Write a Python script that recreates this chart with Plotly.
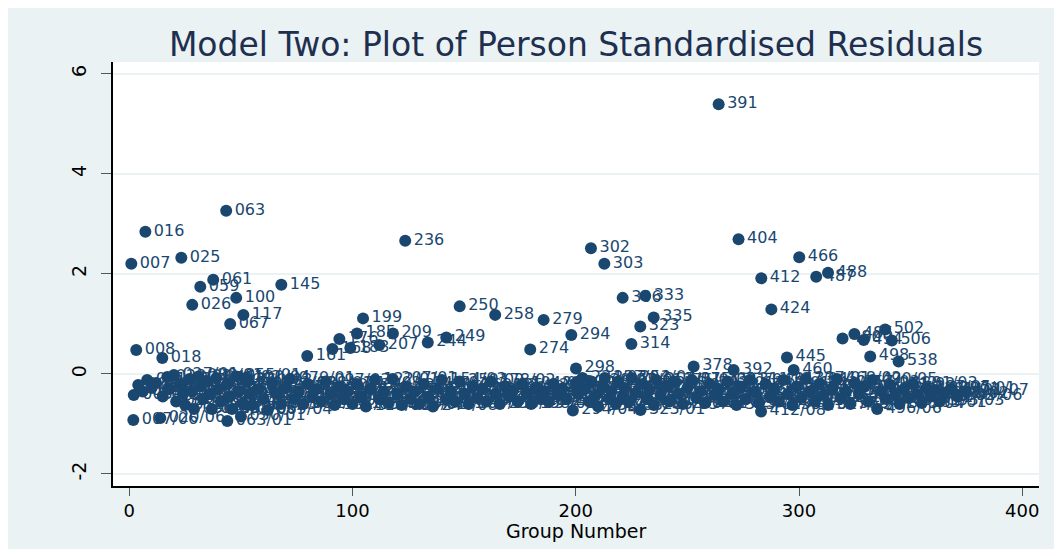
"""Model Two: person standardised residuals by group number."""

import plotly.graph_objects as go

NAVY = "#1A476F"
REGION_BG = "#EAF2F3"

# labelled outliers: group number, residual, person id
out_group = [0.9, 7.2, 23.3, 43.4, 37.6, 31.8, 28.2, 47.9, 51.1, 45.2, 68.1,
             3.1, 14.8, 79.7, 91.0, 99.0, 94.1, 102.0, 118.1, 112.0, 104.7,
             123.6, 133.7, 142.0, 148.0, 163.9, 185.6, 179.6, 198.0, 200.1,
             206.8, 212.8, 221.0, 231.1, 234.9, 228.9, 224.9, 252.8, 264.0,
             270.7, 272.9, 283.1, 287.6, 294.6, 297.6, 300.1, 307.7, 313.0,
             319.5, 324.8, 329.0, 331.9, 338.6, 341.6, 344.6]
out_resid = [2.20, 2.84, 2.32, 3.26, 1.88, 1.74, 1.38, 1.52, 1.18, 1.00, 1.78,
             0.48, 0.32, 0.36, 0.50, 0.52, 0.70, 0.81, 0.81, 0.58, 1.11,
             2.66, 0.63, 0.73, 1.35, 1.18, 1.08, 0.49, 0.78, 0.11,
             2.51, 2.20, 1.52, 1.56, 1.13, 0.95, 0.60, 0.15, 5.39,
             0.08, 2.69, 1.91, 1.29, 0.33, 0.08, 2.33, 1.94, 2.02,
             0.71, 0.80, 0.68, 0.35, 0.89, 0.67, 0.25]
out_id = ["007", "016", "025", "063", "061", "059", "026", "100", "117", "067",
          "145", "008", "018", "161", "168", "183", "176", "185", "209", "207",
          "199", "236", "244", "249", "250", "258", "279", "274", "294", "298",
          "302", "303", "306", "333", "335", "323", "314", "378", "391", "392",
          "404", "412", "424", "445", "460", "466", "487", "488", "480", "485",
          "494", "498", "502", "506", "538"]

# the dense band of residuals just below zero
band_group = [2, 4, 1.8, 6, 8, 10, 12, 13.9, 15, 17, 18, 20, 21, 23, 24, 25,
              27, 28, 29, 31, 32, 33, 35, 36, 37, 39, 40, 41, 43.9, 44, 45, 46,
              48, 49, 50, 51, 53, 54, 55, 52, 58, 60, 62, 64, 66, 68, 70, 72,
              74, 76, 78, 80, 82, 84, 86, 88, 90, 92, 94, 96, 98, 100, 102,
              104, 106, 108, 110, 112, 114, 116, 118, 120, 122, 124, 126, 128,
              130, 132, 134, 136, 138, 140, 142, 144, 146, 148, 150, 152, 154,
              156, 158, 160, 162, 164, 166, 168, 170, 172, 174, 176, 178, 180,
              182, 184, 186, 188, 190, 192, 194, 196, 198.7, 200, 201, 203,
              204, 206, 207, 209, 210, 212, 213, 215, 216, 218, 219, 221, 222,
              224, 225, 227, 229, 230, 232, 233, 235, 236, 238, 240, 242, 244,
              246, 248, 250, 252, 254, 256, 258, 260, 262, 264, 266, 268, 270,
              272, 274, 276, 278, 280, 282, 283, 285, 287, 289, 291, 293, 295,
              297, 299, 301, 303, 305, 307, 309, 311, 313, 315, 317, 319, 321,
              323, 325, 327, 329, 331, 333, 335, 337, 339, 341, 343, 345, 347,
              349, 351, 353, 355, 357, 359, 361, 363, 365, 368, 371, 374]
band_resid = [-0.42, -0.22, -0.92, -0.35, -0.12, -0.28, -0.18, -0.88, -0.45,
              -0.06, -0.30, -0.02, -0.55, -0.20, -0.40, -0.62, -0.10, -0.35,
              -0.70, -0.05, -0.25, -0.50, -0.15, -0.40, -0.70, -0.08, -0.30,
              -0.55, -0.94, -0.20, -0.45, -0.70, -0.05, -0.35, -0.85, -0.60,
              -0.15, -0.40, -0.62, -0.08, -0.30, -0.50, -0.72, -0.20, -0.40,
              -0.60, -0.28, -0.10, -0.50, -0.35, -0.60, -0.20, -0.45, -0.30,
              -0.55, -0.15, -0.40, -0.62, -0.25, -0.50, -0.35, -0.60, -0.20,
              -0.45, -0.65, -0.30, -0.12, -0.50, -0.35, -0.58, -0.10, -0.40,
              -0.62, -0.25, -0.50, -0.35, -0.60, -0.20, -0.45, -0.65, -0.30,
              -0.12, -0.50, -0.35, -0.55, -0.15, -0.40, -0.60, -0.25, -0.48,
              -0.30, -0.55, -0.15, -0.40, -0.60, -0.25, -0.45, -0.32, -0.55,
              -0.20, -0.40, -0.60, -0.28, -0.48, -0.35, -0.55, -0.20, -0.42,
              -0.30, -0.50, -0.73, -0.18, -0.40, -0.08, -0.30, -0.55, -0.15,
              -0.42, -0.65, -0.25, -0.08, -0.50, -0.35, -0.60, -0.15, -0.45,
              -0.28, -0.55, -0.08, -0.38, -0.72, -0.20, -0.50, -0.32, -0.62,
              -0.12, -0.42, -0.25, -0.55, -0.15, -0.40, -0.60, -0.28, -0.12,
              -0.48, -0.35, -0.58, -0.20, -0.42, -0.30, -0.55, -0.15, -0.40,
              -0.62, -0.25, -0.50, -0.12, -0.35, -0.58, -0.75, -0.20, -0.45,
              -0.30, -0.55, -0.12, -0.40, -0.62, -0.25, -0.48, -0.10, -0.35,
              -0.55, -0.20, -0.42, -0.62, -0.28, -0.10, -0.48, -0.35, -0.60,
              -0.18, -0.40, -0.25, -0.55, -0.12, -0.70, -0.35, -0.50, -0.22,
              -0.42, -0.60, -0.30, -0.48, -0.20, -0.40, -0.58, -0.28, -0.45,
              -0.32, -0.55, -0.40, -0.30, -0.45, -0.35]
band_id = ["003/02", "005/01", "007/06", "009/03", "011/02", "013/05", "015/01",
           "020/06", "021/04", "023/02", "024/07", "027/01", "028/03", "030/02",
           "031/05", "032/04", "034/01", "035/02", "036/06", "038/01", "039/03",
           "040/02", "042/05", "043/04", "044/07", "046/02", "047/01", "048/03",
           "063/01", "051/06", "052/02", "053/05", "055/01", "056/04", "050/01",
           "058/02", "060/03", "062/01", "064/05", "100/04", "066/02", "068/01",
           "069/04", "071/03", "073/01", "075/02", "077/05", "079/01", "081/03",
           "083/02", "085/04", "088/01", "090/06", "092/02", "094/01", "097/03",
           "099/02", "101/05", "104/01", "106/02", "108/04", "110/01", "113/03",
           "115/02", "118/01", "120/05", "122/01", "124/03", "126/02", "129/04",
           "207/01", "131/02", "133/01", "136/03", "138/02", "140/06", "143/01",
           "145/04", "147/02", "244/08", "151/01", "154/03", "156/02", "158/05",
           "160/01", "250/02", "165/03", "167/01", "169/02", "172/04", "174/01",
           "176/03", "178/02", "180/01", "258/05", "185/02", "187/01", "189/04",
           "191/02", "194/01", "196/03", "198/02", "200/01", "203/05", "205/02",
           "279/09", "210/01", "212/03", "214/02", "216/04", "294/04", "220/01",
           "222/02", "224/03", "225/01", "227/05", "229/02", "231/01", "233/03",
           "235/02", "237/04", "239/01", "241/02", "243/06", "245/01", "247/03",
           "249/02", "251/01", "253/04", "255/02", "323/01", "259/03", "261/01",
           "263/02", "265/05", "267/01", "269/02", "271/03", "273/01", "275/04",
           "277/02", "280/01", "282/03", "375/02", "286/01", "288/05", "290/02",
           "292/01", "295/03", "297/02", "299/01", "301/04", "303/02", "305/01",
           "307/03", "309/02", "311/01", "313/05", "315/02", "412/08", "319/01",
           "321/03", "323/02", "325/01", "327/04", "329/02", "331/01", "333/03",
           "335/02", "337/01", "339/05", "341/02", "343/01", "345/03", "347/02",
           "349/01", "468/02", "351/04", "353/02", "355/01", "357/03", "359/02",
           "361/01", "363/05", "490/05", "496/06", "367/01", "369/03", "371/02",
           "373/01", "375/04", "377/02", "379/01", "381/03", "383/02", "385/01",
           "387/05", "389/02", "391/01", "393/03", "395/02", "397/01", "399/06",
           "401/07"]

x_ticks = [0, 100, 200, 300, 400]
y_ticks = [-2, 0, 2, 4, 6]
y_tick_text = ["-2", "0", "2", "4", "6"]

fig = go.Figure()
for gx, gy, gid in [(band_group, band_resid, band_id),
                    (out_group, out_resid, out_id)]:
    fig.add_trace(go.Scatter(
        x=gx, y=gy, text=gid, mode="markers+text",
        textposition="middle right",
        marker=dict(color=NAVY, size=12, line=dict(width=0)),
        textfont=dict(family="DejaVu Sans", size=16, color=NAVY),
        showlegend=False, cliponaxis=False,
    ))

fig.add_annotation(text="Group Number", xref="paper", yref="paper",
                   x=0.5, y=-0.106, yanchor="middle", showarrow=False,
                   font=dict(size=19, color="black"))

# the page adds an 8px white border on top and left
fig.update_layout(
    width=1048, height=541,
    margin=dict(l=105, r=17, t=54, b=63),
    paper_bgcolor=REGION_BG, plot_bgcolor="white",
    font=dict(family="DejaVu Sans", color="black"),
    title=dict(text="Model Two: Plot of Person Standardised Residuals",
               x=0.5, xref="paper", y=0.9335, yanchor="middle",
               font=dict(size=33, color="#1E2F4F")),
    xaxis=dict(range=[-7.3, 407.5], tickvals=x_ticks, showgrid=False,
               zeroline=False, showline=True, linecolor="black", linewidth=1.5,
               ticks="outside", ticklen=8, tickcolor="#555555",
               tickfont=dict(size=18), automargin=False),
    yaxis=dict(range=[-2.24, 6.234], tickvals=y_ticks, ticktext=y_tick_text,
               showgrid=True, gridcolor=REGION_BG, gridwidth=2, zeroline=False,
               showline=True, linecolor="black", linewidth=1.5,
               ticks="outside", ticklen=10, tickcolor="#555555",
               tickangle=-90, tickfont=dict(size=19), automargin=False,
               ticklabelstandoff=8),
)

fig.write_html("out.html")
